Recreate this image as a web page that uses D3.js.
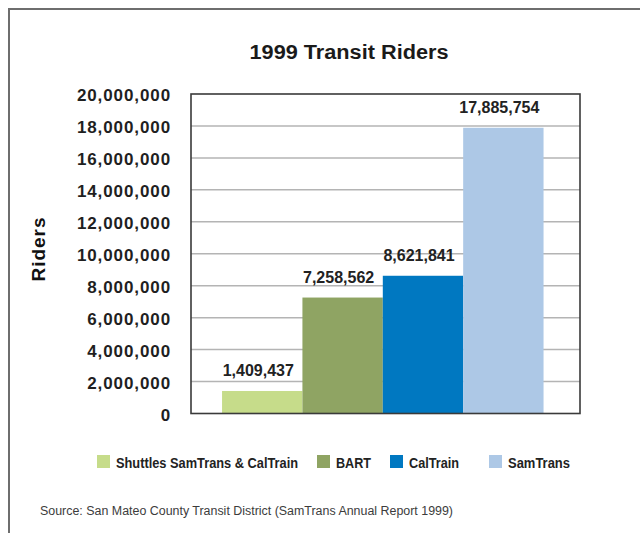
<!DOCTYPE html>
<html><head><meta charset="utf-8">
<script src="https://cdn.jsdelivr.net/npm/d3@7"></script>
<style>
html,body{margin:0;padding:0;background:#fff;}
svg{display:block;font-family:"Liberation Sans",Arial,Helvetica,sans-serif;}
</style></head>
<body>
<svg id="chart" width="640" height="533"></svg>
<script>
const categories = ["Shuttles SamTrans & CalTrain", "BART", "CalTrain", "SamTrans"];
const riders = [1409437, 7258562, 8621841, 17885754];
const colors = ["#c6dc8a", "#8fa463", "#0078c1", "#adc8e6"];
const yTicks = [0, 2000000, 4000000, 6000000, 8000000, 10000000, 12000000, 14000000, 16000000, 18000000, 20000000];
const title = "1999 Transit Riders";
const yTitle = "Riders";
const source = "Source: San Mateo County Transit District (SamTrans Annual Report 1999)";

const svg = d3.select("#chart");
const fmt = d3.format(",");

// outer frame (extends beyond right/bottom edges)
svg.append("path").attr("d","M9,540 V9 H650").attr("fill","none").attr("stroke","#6e6e6e").attr("stroke-width",2);

const plot = {left:191, right:580, top:94, bottom:413.5};
const x = d3.scaleBand().domain(categories).range([plot.left, plot.right]).paddingInner(0).paddingOuter(0.42).align(0.46);
const y = d3.scaleLinear().domain([0, 20000000]).range([plot.bottom, plot.top]);

// title
svg.append("text").attr("x",349).attr("y",59).attr("text-anchor","middle")
  .attr("font-size",20).attr("font-weight","bold").attr("fill","#1a1a1a")
  .attr("textLength",199).attr("lengthAdjust","spacingAndGlyphs").text(title);

// gridlines
svg.append("g").selectAll("line").data(yTicks.filter(d=>d>0 && d<20000000)).join("line")
  .attr("x1",plot.left).attr("x2",plot.right).attr("y1",d=>y(d)).attr("y2",d=>y(d))
  .attr("stroke","#b4b4b4").attr("stroke-width",1.5);

// y axis labels
const yAxis = d3.axisLeft(y).tickValues(yTicks).tickFormat(fmt).tickSize(0).tickPadding(20);
const ga = svg.append("g").attr("transform",`translate(${plot.left},0)`).call(yAxis);
ga.select(".domain").remove();
ga.selectAll("text").attr("font-family",'"Liberation Sans",Arial,sans-serif')
  .attr("font-size",17).attr("font-weight","bold").attr("fill","#1f1f1f")
  .attr("letter-spacing","0.9").attr("dy","0.4em");

// y title
svg.append("text").attr("transform",`translate(45,249) rotate(-90)`).attr("text-anchor","middle")
  .attr("font-size",19).attr("font-weight","bold").attr("fill","#111").attr("letter-spacing","1")
  .text(yTitle);

// bars
const data = categories.map((c,i)=>({c, v:riders[i], col:colors[i]}));
svg.append("g").selectAll("rect").data(data).join("rect")
  .attr("x",d=>x(d.c)).attr("width",x.bandwidth())
  .attr("y",d=>y(d.v)).attr("height",d=>plot.bottom - y(d.v))
  .attr("fill",d=>d.col);

// value labels
svg.append("g").selectAll("text").data(data).join("text")
  .attr("x",d=>x(d.c)+x.bandwidth()/2 - 4).attr("y",d=>y(d.v)-15)
  .attr("text-anchor","middle").attr("font-size",16).attr("font-weight","bold").attr("fill","#222")
  .text(d=>fmt(d.v));

// plot frame
svg.append("rect").attr("x",plot.left).attr("y",plot.top)
  .attr("width",plot.right-plot.left).attr("height",plot.bottom-plot.top)
  .attr("fill","none").attr("stroke","#3a3a3a").attr("stroke-width",1.6);

// legend
const legendX = [97, 317, 390, 489];
const legendW = [182, 35, 50, 62];
const lg = svg.append("g");
data.forEach((d,i)=>{
  lg.append("rect").attr("x",legendX[i]).attr("y",455).attr("width",13).attr("height",13).attr("fill",d.col);
  lg.append("text").attr("x",legendX[i]+19).attr("y",467.5).attr("font-size",14).attr("font-weight","bold")
    .attr("fill","#222").attr("textLength",legendW[i]).attr("lengthAdjust","spacingAndGlyphs").text(d.c);
});

// source
svg.append("text").attr("x",40).attr("y",515).attr("font-size",12).attr("fill","#3c3c3c")
  .attr("textLength",413).attr("lengthAdjust","spacingAndGlyphs").text(source);
</script>
</body></html>
